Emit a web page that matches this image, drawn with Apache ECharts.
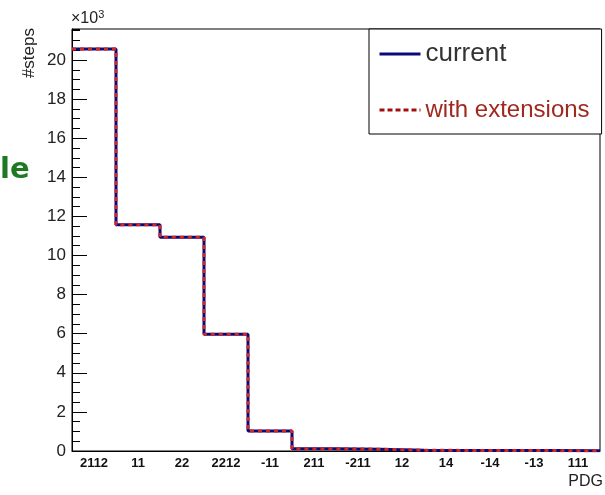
<!DOCTYPE html>
<html lang="en">
<head>
    <meta charset="UTF-8">
    <title>PDG steps</title>
    <script src="https://cdn.jsdelivr.net/npm/echarts@6.0.0/dist/echarts.min.js"></script>
    <style>
        html, body { margin: 0; padding: 0; background: #fff; }
    </style>
</head>
<body>
    <div id="main" style="width: 605px;height:495px;"></div>
    <script type="text/javascript">
        // PDG codes, one bin each
        const categories = ['2112', '11', '22', '2212', '-11', '211', '-211', '12', '14', '-14', '-13', '111'];
        // number of steps, in units of 10^3
        const currentSteps = [20.56, 11.58, 10.93, 5.97, 1.02, 0.12, 0.09, 0.04, 0.03, 0.02, 0.02, 0.01];
        const extensionSteps = [20.56, 11.58, 10.93, 5.97, 1.02, 0.12, 0.09, 0.04, 0.03, 0.02, 0.02, 0.01];
        const yTicks = [0, 2, 4, 6, 8, 10, 12, 14, 16, 18, 20];

        // histogram outline: one point per bin edge
        function toSteps(values) {
            const pts = values.map((v, i) => [i, v]);
            pts.push([values.length, values[values.length - 1]]);
            return pts;
        }

        const yMax = Math.max(...currentSteps) * 1.05;
        const font = 'Liberation Sans, Arial, sans-serif';

        let myChart = echarts.init(document.getElementById('main'));

        let options = {
            animation: false,
            backgroundColor: '#ffffff',
            grid: {
                left: 72, top: 29, right: 5, bottom: 44,
                show: true, borderColor: '#000', borderWidth: 1
            },
            legend: {
                orient: 'vertical',
                left: 369, top: 29,
                padding: [11, 12, 10, 9],
                itemGap: 28,
                itemWidth: 41, itemHeight: 14,
                backgroundColor: '#fff',
                borderColor: '#000', borderWidth: 1,
                itemStyle: { opacity: 0 },
                data: [
                    { name: 'current', textStyle: { color: '#333', fontSize: 26, lineHeight: 28, fontFamily: font },
                      lineStyle: { color: '#0a0a78', width: 3 } },
                    { name: 'with extensions', textStyle: { color: '#a0281e', fontSize: 24, lineHeight: 28, fontFamily: font },
                      lineStyle: { color: '#a01010', type: [5, 3], width: 3 } }
                ]
            },
            xAxis: [{
                type: 'value', min: 0, max: categories.length, show: false
            }, {
                type: 'category', data: categories, boundaryGap: true, position: 'bottom',
                axisLine: { lineStyle: { color: '#000', width: 1 } },
                axisTick: { inside: true, length: 13, lineStyle: { color: '#000' } },
                axisLabel: { color: '#111', fontSize: 13, fontWeight: 'bold', fontFamily: font, margin: 6 },
                splitLine: { show: false }
            }],
            yAxis: [{
                type: 'value', min: 0, max: yMax, interval: 2,
                axisLine: { show: true, lineStyle: { color: '#000', width: 1 } },
                axisTick: { inside: true, length: 15, lineStyle: { color: '#000' } },
                axisLabel: {
                    color: '#222', fontSize: 17, fontFamily: font, margin: 6, showMaxLabel: false,
                    formatter: v => yTicks.includes(v) ? String(v) : ''
                },
                splitLine: { show: false }
            }, {
                type: 'value', min: 0, max: yMax, interval: 0.5, position: 'left',
                axisLine: { show: false },
                axisTick: { inside: true, length: 8, lineStyle: { color: '#000' } },
                axisLabel: { show: false },
                splitLine: { show: false }
            }],
            series: [{
                name: 'current',
                type: 'line', step: 'end', symbol: 'none',
                xAxisIndex: 0, yAxisIndex: 0,
                data: toSteps(currentSteps),
                lineStyle: { color: '#0a0a78', width: 3 },
                itemStyle: { color: '#0a0a78' }
            }, {
                name: 'with extensions',
                type: 'line', step: 'end', symbol: 'none',
                xAxisIndex: 0, yAxisIndex: 0,
                data: toSteps(extensionSteps),
                lineStyle: { color: '#d02828', width: 3, type: [4, 4] },
                itemStyle: { color: '#d02828' }
            }],
            graphic: [{
                type: 'text', left: 0, top: 156,
                style: { text: 'le', fill: '#1d7a22', font: 'bold 29px DejaVu Sans' }
            }, {
                type: 'text', x: 29, y: 28, rotation: Math.PI / 2,
                style: { text: '#steps', fill: '#222', font: '17px Liberation Sans', align: 'right', verticalAlign: 'middle' }
            }, {
                type: 'text', x: 71, y: 19,
                style: {
                    text: '×10{s|3}', fill: '#222', font: '16px Liberation Sans', verticalAlign: 'middle',
                    rich: { s: { fontSize: 11, verticalAlign: 'top', padding: [0, 0, 8, 0], fontFamily: font } }
                }
            }, {
                type: 'text', x: 603, y: 482,
                style: { text: 'PDG', fill: '#222', font: '16px Liberation Sans', align: 'right', verticalAlign: 'middle' }
            }]
        };

        myChart.setOption(options);
    </script>
</body>
</html>
